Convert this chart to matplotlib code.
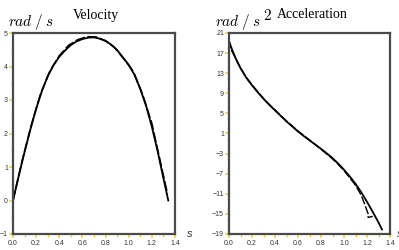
import matplotlib
matplotlib.use("Agg")
import matplotlib.pyplot as plt
from matplotlib.ticker import MultipleLocator

plt.rcParams['mathtext.fontset'] = 'cm'

# Velocity (solid = exact, dashed = approximation)
vel_t = [0, 0.05, 0.1, 0.15, 0.2, 0.25, 0.3, 0.35, 0.4, 0.45, 0.5, 0.55, 0.6, 0.65, 0.7,
         0.75, 0.8, 0.85, 0.9, 0.95, 1.0, 1.05, 1.1, 1.15, 1.2, 1.25, 1.3, 1.342]
vel_v = [0, 0.74, 1.45, 2.12, 2.74, 3.27, 3.71, 4.04, 4.29, 4.48, 4.64, 4.75, 4.82, 4.86, 4.87,
         4.83, 4.76, 4.65, 4.49, 4.27, 4.05, 3.75, 3.33, 2.83, 2.2, 1.47, 0.66, 0.0]
vel_dt = [0, 0.08, 0.16, 0.24, 0.32, 0.40, 0.48, 0.56, 0.64, 0.72, 0.80, 0.88, 0.96,
          1.04, 1.12, 1.20, 1.28, 1.335]
vel_dv = [0, 1.2, 2.27, 3.2, 3.87, 4.32, 4.63, 4.8, 4.89, 4.88, 4.77, 4.56, 4.22,
          3.85, 3.16, 2.3, 1.05, 0.2]

# Acceleration
acc_t = [0, 0.025, 0.05, 0.075, 0.1, 0.15, 0.2, 0.25, 0.3, 0.35, 0.4, 0.45, 0.5, 0.55, 0.6,
         0.65, 0.7, 0.75, 0.8, 0.85, 0.9, 0.95, 1.0, 1.05, 1.1, 1.15, 1.2, 1.25, 1.3, 1.33]
acc_a = [19.4, 17.8, 16.4, 15.1, 14.0, 12.1, 10.6, 9.2, 7.9, 6.7, 5.6, 4.5, 3.4, 2.4, 1.4,
         0.5, -0.35, -1.2, -2.05, -2.95, -3.9, -5.0, -6.2, -7.55, -9.0, -10.7, -12.6, -14.6,
         -16.7, -18.1]
acc_dt = [0, 0.02, 0.06, 0.1, 0.15, 0.2, 0.25, 0.3, 0.35, 0.4, 0.45, 0.5, 0.55, 0.6, 0.65,
          0.7, 0.75, 0.8, 0.85, 0.9, 0.95, 1.0, 1.05, 1.1, 1.15, 1.18, 1.21, 1.21, 1.25]
acc_da = [19.6, 17.6, 15.9, 14.1, 12.2, 10.7, 9.3, 8.0, 6.8, 5.7, 4.6, 3.5, 2.5, 1.5, 0.6,
          -0.3, -1.2, -2.15, -3.1, -4.05, -5.15, -6.4, -7.8, -9.3, -11.3, -13.1, -15.0, -15.7,
          -15.5]

x_ticks = [0.0, 0.2, 0.4, 0.6, 0.8, 1.0, 1.2, 1.4]
vel_yticks = [-1, 0, 1, 2, 3, 4, 5]
acc_yticks = [-19, -15, -11, -7, -3, 1, 5, 9, 13, 17, 21]

fig = plt.figure(figsize=(3.99, 2.5), dpi=100)
ax1 = fig.add_axes([13/399, 16/250, 162/399, 201/250])
ax2 = fig.add_axes([229/399, 16/250, 161/399, 201/250])

yellow = '#f2d21c'
frame = '#4a4a4a'

def style(ax, yticks, yminor):
    ax.set_xlim(0, 1.4)
    ax.set_ylim(yticks[0], yticks[-1])
    ax.set_xticks(x_ticks)
    ax.set_xticklabels(['%.1f' % v for v in x_ticks])
    ax.set_yticks(yticks)
    ax.set_yticklabels([str(v).replace('-', '\u2212') for v in yticks])
    ax.xaxis.set_minor_locator(MultipleLocator(0.1))
    ax.yaxis.set_minor_locator(MultipleLocator(yminor))
    ax.tick_params(which='major', direction='out', length=3.0, width=1.1, color=yellow,
                   labelsize=5, labelcolor='#333333', pad=1.5)
    ax.tick_params(axis='y', which='major', pad=0.6)
    ax.tick_params(which='minor', direction='out', length=1.8, width=1.0, color=yellow)
    for lab in ax.get_xticklabels() + ax.get_yticklabels():
        lab.set_family('Liberation Sans')
    for sp in ax.spines.values():
        sp.set_color(frame)
        sp.set_linewidth(1.6)

ax1.plot(vel_t, vel_v, color='black', lw=1.3)
ax1.plot(vel_dt, vel_dv, color='black', lw=1.2, ls=(0, (6, 1.5)))
style(ax1, vel_yticks, 0.5)

ax2.plot(acc_t, acc_a, color='black', lw=1.3)
ax2.plot(acc_dt, acc_da, color='black', lw=1.0, ls=(0, (6, 1.5)))
style(ax2, acc_yticks, 2)

fig.text(8/399, 1 - 26/250, r'$rad\;/\;s$', fontsize=11, ha='left', va='baseline')
fig.text(95.5/399, 1 - 18.5/250, 'Velocity', fontsize=10, family='Liberation Serif',
         ha='center', va='baseline')
fig.text(215/399, 1 - 26/250, r'$rad\;/\;s$', fontsize=11, ha='left', va='baseline')
fig.text(263/399, 1 - 20/250, r'$\mathrm{2}$', fontsize=11, ha='left', va='baseline')
fig.text(312.5/399, 1 - 18.5/250, 'Acceleration', fontsize=10, family='Liberation Serif',
         ha='center', va='baseline')
fig.text(190/399, 1 - 237/250, 's', fontsize=8, style='italic', family='Liberation Sans',
         ha='center', va='baseline', color='#333333')
fig.text(397/399, 1 - 237/250, 's', fontsize=8, style='italic', family='Liberation Sans',
         ha='left', va='baseline', color='#333333')

fig.savefig('out.png', dpi=100)
